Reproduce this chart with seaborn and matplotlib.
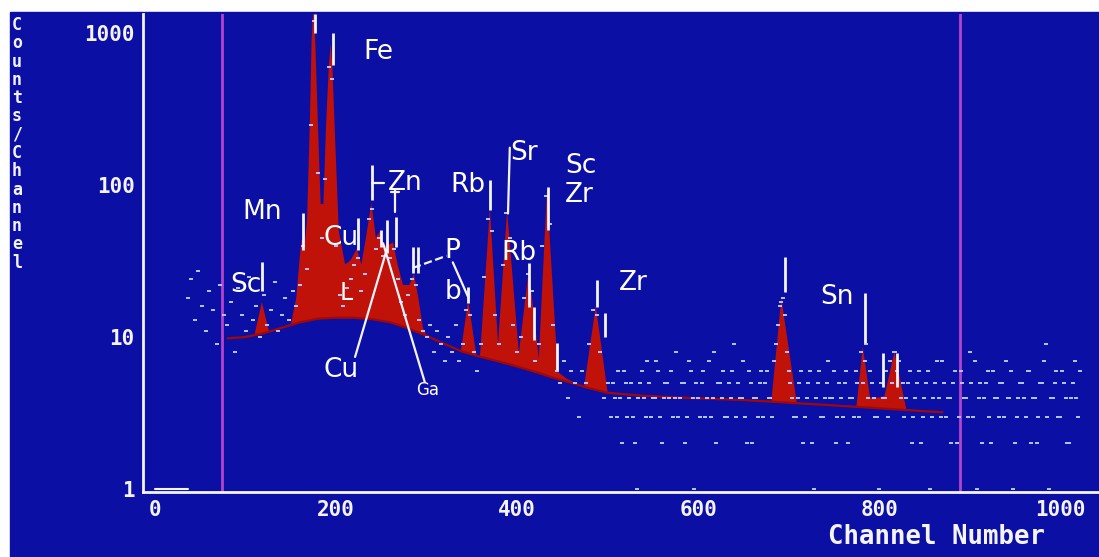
import numpy as np
import matplotlib
matplotlib.use("Agg")
import matplotlib.pyplot as plt
from matplotlib.patches import Rectangle
import seaborn as sns

# ---------------- data ----------------
# fitted spectrum outline (channel, counts)
fit_ch = [80, 100, 110, 118, 126, 140, 150, 156, 160, 162, 165, 168, 171, 173,
          175, 177, 180, 183, 186, 189, 192, 194, 196, 199, 203, 210, 216, 223, 228, 233,
          239, 244, 249, 253, 257, 263, 268, 274, 281, 286, 291, 296, 300, 320, 338,
          346, 355, 359, 370, 379, 389, 402, 413, 424,
          433, 445, 455, 474, 487, 500, 520, 560, 600, 650, 681,
          692, 709, 740, 775, 782, 790, 800, 806, 817, 830, 850,
          870]
fit_cnt = [9.8, 10.0, 10.4, 17, 10.8, 11.5, 12.0, 18, 34, 44, 38, 60, 250, 900,
           1500, 900, 250, 75, 75, 250, 600, 850, 600, 200, 50, 30, 32, 38, 30, 45,
           76, 45, 50, 40, 40, 42, 30, 22, 22, 26, 18, 11.5, 10.2, 9.0, 8.1,
           17.5, 7.6, 7.4, 70, 9, 68, 7.8, 28, 7.2,
           92, 5.9, 5.3, 4.7, 16, 4.35, 4.2, 4.05, 3.95, 3.85, 3.8,
           18, 3.7, 3.6, 3.5, 8.6, 4.0, 4.0, 4.1, 8.0, 3.35, 3.25,
           3.2]

# continuum (background) under the peaks
cont_ch = [80, 100, 120, 140, 160, 180, 200, 220, 240, 260, 280, 300, 320, 340, 360,
           380, 400, 420, 440, 460, 480, 500, 540, 600, 650, 700, 750, 800, 850, 870]
cont_cnt = [9.8, 10.0, 10.6, 11.5, 12.5, 13.2, 13.4, 13.4, 13.1, 12.5, 11.4, 10.2, 9.0, 8.0, 7.4,
            6.9, 6.4, 5.9, 5.4, 5.0, 4.6, 4.3, 4.1, 3.95, 3.85, 3.7, 3.55, 3.4, 3.25, 3.2]

# raw counts, sampled every 4 channels, by segment start channel
raw_segments = {
    36: [18, 24, 13, 27, 16, 11, 20, 15, 9, 22, 14],
    80: [12, 17, 8, 21, 14, 11, 25, 13, 16, 10, 19, 12, 15, 23, 11, 14, 18, 13, 20, 16],
    160: [22, 40, 28, 250, 1200, 120, 45, 110, 600, 500, 40, 19, 16, 21, 24, 30, 33, 20,
          26, 60, 70, 38, 45, 34, 36, 33, 38, 24, 17, 14, 19, 24, 22, 13, 11],
    300: [10, 12, 8, 11, 9, 7, 10, 8, 12, 7, 9, 15, 14, 8, 6, 9, 25, 60, 50, 14, 9, 30,
          65, 45, 12, 8, 10, 18, 26, 20, 7, 9, 40, 85, 55],
    440: [12, 6, 5, 7, 4, 6, 5, 3, 6, 5, 9, 15, 14, 8, 4, 5],
    504: [3, 4, 6, 2, 5, 4, 3, 1, 5, 4, 7, 3, 4, 6, 2, 5,
          4, 3, 8, 4, 5, 3, 6, 1, 4, 5, 3, 7, 4, 2, 5, 6,
          3, 4, 9, 5, 4, 3, 6, 2, 4, 5, 3, 6, 4, 7, 12, 17,
          14, 6, 4, 3, 5, 2, 4, 6, 1, 5, 3, 4, 7, 4, 2, 5,
          3, 6, 4, 3, 5, 8, 7, 4, 5, 3, 1, 4, 6, 7, 8, 6,
          4, 3, 5, 2, 4, 6, 3, 5, 1, 4, 7, 3, 5, 4, 2, 6,
          3, 5, 4, 8, 3, 1, 5, 4, 6, 2, 4, 3, 5, 7, 4, 1,
          3, 5, 4, 6, 2, 4, 3, 5, 9, 1, 4, 6, 3, 5, 2, 4,
          7, 3],
    506: [5, 3, 4, 6, 3, 5, 2, 4, 6, 3, 5, 4, 7, 3, 4, 5,
          6, 4, 3, 5, 2, 7, 4, 5, 3, 6, 4, 3, 8, 5, 4, 3,
          5, 6, 3, 4, 7, 2, 5, 4, 3, 6, 5, 4, 3, 9, 16, 18,
          8, 5, 3, 4, 6, 3, 5, 2, 4, 6, 3, 5, 4, 6, 3, 4,
          5, 2, 4, 6, 3, 5, 9, 6, 4, 3, 5, 4, 3, 5, 8, 7,
          5, 4, 6, 3, 5, 2, 4, 6, 3, 5, 4, 7, 3, 4, 5, 2,
          6, 4, 3, 5, 7, 4, 2, 5, 3, 6, 4, 5, 3, 4, 6, 2,
          4, 5, 3, 6, 4, 2, 5, 7, 3, 4, 5, 3, 6, 4, 2, 5,
          4, 6],
}
floor_ch = [0, 36]
floor_cnt = [1, 1]

# element line markers (channel, low, high counts)
mark_ch = [118, 163, 177, 197, 224, 240, 250, 256, 266, 285, 291, 346, 370, 413, 419,
           434, 444, 488, 497, 696, 784, 804, 820]
mark_lo = [20, 37.5, 1000, 617, 37.5, 80, 39, 35.7, 39, 26.4, 26.4, 16.7, 68, 15.8, 9.5,
           50.5, 6.1, 15.8, 10, 19.8, 9.1, 4.7, 4.7]
mark_hi = [31, 65, 1330, 1000, 61, 135, 50.5, 58.8, 61.6, 39, 39, 21.3, 108, 30.7, 15.8,
           97, 9.1, 23.7, 14.4, 33.6, 19.5, 7.8, 7.8]

# leader lines (ch0, cnt0, ch1, cnt1, style)
lead_ch0 = [221, 298, 285, 329, 390, 240, 265, 261]
lead_c0 = [7.4, 5.06, 28.5, 31, 65, 103, 66.4, 90]
lead_ch1 = [256, 252, 322, 346, 392, 253, 265, 270]
lead_c1 = [37.5, 41.4, 34.2, 18.3, 176, 103, 93, 90]
lead_ls = ['-', '-', '--', '-', '-', '-', '-', '-']

# peak labels
lab_text = ["Fe", "Mn", "Cu", "Zn", "Rb", "Sr", "Sc", "Zr", "Rb", "P", "b", "Zr",
            "Sn", "Sc", "Cu", "Ga", "L"]
lab_ch = [230, 97, 186, 257, 326, 392, 453, 453, 383, 320, 320, 512, 735, 83, 186, 288, 204]
lab_cnt = [750, 66, 44.8, 103, 100, 163, 133, 86, 35.7, 37, 19.8, 22.7, 18.3, 22, 6.07, 4.48, 19.5]
lab_size = [19, 19, 19, 19, 19, 19, 19, 19, 19, 19, 19, 19, 19, 19, 19, 12, 17]

range_lines = [74, 889]
x_ticks = [0, 200, 400, 600, 800, 1000]
y_ticks = [1, 10, 100, 1000]

# ---------------- style ----------------
BLUE = '#0c0fa3'
RED = '#c01209'
WHITE = '#f4f4ff'
DOT = '#b0c0ff'
MONO = ['DejaVu Sans Mono']
LABF = ['DejaVu Sans']
DASH = [(-1.0, -0.5), (1.0, -0.5), (1.0, 0.5), (-1.0, 0.5)]

sns.set_theme(style="dark")
plt.rcParams['font.family'] = ['DejaVu Sans']

fig = plt.figure(figsize=(10.99, 5.57), dpi=100, facecolor='white')
bg = Rectangle((10 / 1099, 0), 1 - 10 / 1099, (557 - 12) / 557,
               transform=fig.transFigure, color=BLUE, zorder=-10)
fig.patches.append(bg)
ax = fig.add_axes([143 / 1099, (557 - 492) / 557, 956 / 1099, 478 / 557])
ax.set_zorder(1)
ax.set_facecolor(BLUE)
ax.set_yscale('log')
ax.set_xlim(-13.3, 1043)
ax.set_ylim(0.956, 1334)

# fitted peaks: polygon between fit outline and continuum
poly_x = list(fit_ch) + list(cont_ch[::-1])
poly_y = list(fit_cnt) + list(cont_cnt[::-1])
ax.fill(poly_x, poly_y, color=RED, lw=0, zorder=2)
sns.lineplot(x=cont_ch, y=cont_cnt, ax=ax, color='#a00808', lw=1.6, zorder=2.5,
             estimator=None, sort=False)

# range lines
for xv in range_lines:
    ax.axvline(xv, color='#b444cc', lw=2, zorder=1)

# raw data dots
rx, ry = [], []
for start, vals in raw_segments.items():
    rx.extend(np.arange(start, start + 4 * len(vals), 4))
    ry.extend(vals)
sns.scatterplot(x=rx, y=ry, ax=ax, color=DOT, marker=DASH, s=12, linewidth=0, zorder=3)
ax.plot(floor_ch, floor_cnt, color=WHITE, lw=1.5, zorder=3)

# markers
ax.vlines(mark_ch, mark_lo, mark_hi, color=WHITE, lw=2, zorder=4)
for x0, y0, x1, y1, ls in zip(lead_ch0, lead_c0, lead_ch1, lead_c1, lead_ls):
    ax.plot([x0, x1], [y0, y1], color=WHITE, lw=1.6, ls=ls, zorder=4)

for t, xv, yv, fs in zip(lab_text, lab_ch, lab_cnt, lab_size):
    ax.text(xv, yv, t, color='white', fontsize=fs, family=LABF, fontweight='normal',
            ha='left', va='center', zorder=5)

# axes styling
for side in ['top', 'right']:
    ax.spines[side].set_visible(False)
for side in ['left', 'bottom']:
    ax.spines[side].set_color(WHITE)
    ax.spines[side].set_linewidth(2)
ax.grid(False)
ax.set_xticks(x_ticks)
ax.set_xticklabels([str(v) for v in x_ticks])
ax.set_yticks(y_ticks)
ax.set_yticklabels([str(v) for v in y_ticks])
ax.minorticks_off()
ax.tick_params(axis='x', direction='in', length=7, width=1.5, color=WHITE, pad=6,
               labelcolor=WHITE, labelsize=15)
ax.tick_params(axis='y', direction='out', length=5, width=1.5, color=WHITE, pad=1,
               labelcolor=WHITE, labelsize=15)
for lab in ax.get_xticklabels() + ax.get_yticklabels():
    lab.set_family(MONO)
    lab.set_fontweight('bold')
ax.set_xlabel('')
ax.set_ylabel('')

fig.text(937 / 1099, 1 - 537 / 557, 'Channel Number', color=WHITE, family=MONO,
         fontweight='bold', fontsize=18.5, ha='center', va='center')
fig.text(17 / 1099, 1 - 16 / 557, '\n'.join('Counts/Channel'), color=WHITE, family=MONO,
         fontweight='bold', fontsize=12, ha='center', va='top', linespacing=1.02)

fig.savefig('out.png', dpi=100, facecolor='white')
